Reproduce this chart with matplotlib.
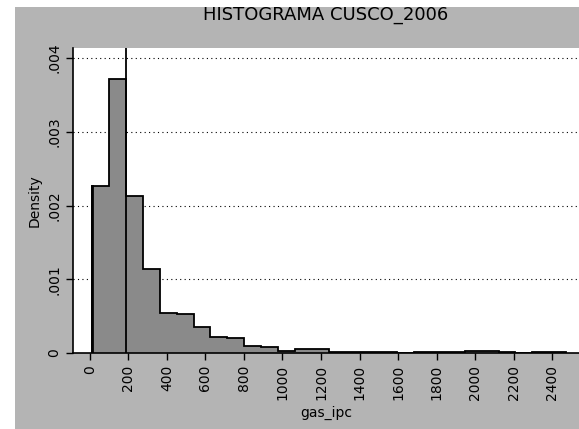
import matplotlib.pyplot as plt
import numpy as np
from matplotlib.patches import Rectangle

# histogram of gas_ipc (density scale), bins of width 88 starting at 10
bin_start = 10
bin_width = 88
density = [0.00227, 0.00372, 0.00213, 0.00114, 0.00054, 0.00053, 0.00035,
           0.00022, 0.00021, 0.00009, 0.00008, 0.00003, 0.00006, 0.00006,
           0.00002, 0.00001, 0.00001, 0.00001, 0.0, 0.00001, 0.00001,
           0.00002, 0.00003, 0.00003, 0.00001, 0.0, 0.00001, 0.00001]
ref_line = 185
xticks = [0, 200, 400, 600, 800, 1000, 1200, 1400, 1600, 1800, 2000, 2200, 2400]
yticks = [0, 0.001, 0.002, 0.003, 0.004]
ytick_labels = ['0', '.001', '.002', '.003', '.004']

edges = bin_start + bin_width * np.arange(len(density) + 1)

fig = plt.figure(figsize=(5.79, 4.29), dpi=100)
fig.patch.set_facecolor('white')
fig.patches.append(Rectangle((15/579, 0), 1 - 15/579, 1 - 7/429,
                             transform=fig.transFigure, facecolor='#b4b4b4',
                             edgecolor='none', zorder=-10))

ax = fig.add_axes([73/579, 1 - 353/429, 1 - 73/579, (353 - 48)/429])
ax.set_facecolor('white')

for y in yticks[1:]:
    ax.axhline(y, color='black', lw=0.8, ls=(0, (1, 3)), zorder=1)

ax.bar(edges[:-1], density, width=bin_width, align='edge',
       color='#8a8a8a', edgecolor='none', zorder=2)
ax.stairs(density, edges, color='black', lw=1.3, baseline=0, zorder=3)
ax.plot([edges[0], edges[0]], [0, density[0]], color='black', lw=2, zorder=3)
ax.axvline(ref_line, color='black', lw=1.3, zorder=4)

ax.set_xlim(-88, 2540)
ax.set_ylim(0, 0.004136)
ax.set_xticks(xticks)
ax.set_xticklabels([str(t) for t in xticks], rotation=90, fontsize=10)
ax.set_yticks(yticks)
ax.set_yticklabels(ytick_labels, rotation=90, va='center', fontsize=10)
ax.tick_params(direction='out', length=5, width=1, colors='black')

for s in ['top', 'right']:
    ax.spines[s].set_visible(False)
for s in ['left', 'bottom']:
    ax.spines[s].set_linewidth(1.2)

ax.set_xlabel('gas_ipc', fontsize=10, labelpad=4)
ax.set_ylabel('Density', fontsize=10, labelpad=4)
fig.text(0.562, 1 - 15/429, 'HISTOGRAMA CUSCO_2006', ha='center', va='center',
         fontsize=13)

fig.savefig('out.png', dpi=100)
